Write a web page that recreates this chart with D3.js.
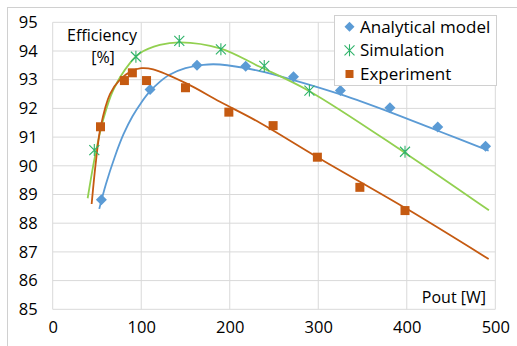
<!DOCTYPE html>
<html>
<head>
<meta charset="utf-8">
<script src="https://cdn.jsdelivr.net/npm/d3@7"></script>
<style>
  body { margin: 0; background: #fff; }
  svg { font-family: "Open Sans", sans-serif; }
</style>
</head>
<body>
<svg id="chart" width="517" height="346"></svg>
<script>
// Measured points (Pout [W], efficiency [%])
var analyticalX = [55, 110, 163, 218, 272, 325, 381, 435, 489];
var analyticalY = [88.82, 92.66, 93.5, 93.47, 93.1, 92.62, 92.02, 91.35, 90.68];

var simulationX = [47, 94, 143, 190, 239, 290, 398];
var simulationY = [90.55, 93.8, 94.35, 94.06, 93.48, 92.62, 90.49];

var experimentX = [54, 81, 90, 106, 150, 199, 249, 299, 347, 398];
var experimentY = [91.36, 92.97, 93.24, 92.97, 92.72, 91.87, 91.4, 90.3, 89.25, 88.44];

// Trend lines
var analyticalFitX = [52.6, 60, 70, 80, 90, 100, 110, 120, 132, 150, 170, 189, 234, 273, 327, 381, 435, 492.5];
var analyticalFitY = [88.5, 89.35, 90.3, 91.1, 91.72, 92.2, 92.6, 92.9, 93.17, 93.4, 93.52, 93.53, 93.3, 92.98, 92.47, 91.87, 91.22, 90.53];

var simulationFitX = [39.5, 47.7, 57, 68.4, 87, 98.5, 121, 144, 189, 234, 290, 398, 492.8];
var simulationFitY = [88.87, 90.32, 91.6, 92.64, 93.57, 93.92, 94.21, 94.3, 94.09, 93.45, 92.6, 90.45, 88.45];

var experimentFitX = [44, 49, 54.2, 64.7, 76, 88, 100, 113.5, 151, 189, 234, 299, 400, 492.5];
var experimentFitY = [88.67, 90.2, 91.36, 92.5, 93.0, 93.28, 93.4, 93.36, 92.87, 92.23, 91.5, 90.3, 88.5, 86.75];

var xTicks = [0, 100, 200, 300, 400, 500];
var yTicks = [85, 86, 87, 88, 89, 90, 91, 92, 93, 94, 95];

var seriesNames = ['Analytical model', 'Simulation', 'Experiment'];

var svg = d3.select('#chart');

var margin = {left: 52.7, right: 517 - 495.3, top: 22.3, bottom: 346 - 309.3};
var width = 517 - margin.left - margin.right,
    height = 346 - margin.top - margin.bottom;

// Outer chart frame
svg.append('rect')
    .attr('x', 7.5).attr('y', 7.5)
    .attr('width', 530).attr('height', 360)
    .attr('fill', 'none')
    .attr('stroke', '#d0d0d0');

var g = svg.append('g')
    .attr('transform', 'translate(' + margin.left + ',' + margin.top + ')');

var x = d3.scaleLinear().domain([0, 500]).range([0, width]);
var y = d3.scaleLinear().domain([85, 95]).range([height, 0]);

// Grid
g.append('g').selectAll('line.h')
    .data(yTicks)
    .enter().append('line')
        .attr('x1', 0).attr('x2', width)
        .attr('y1', function(d) { return y(d); })
        .attr('y2', function(d) { return y(d); })
        .attr('stroke', '#d9d9d9');

g.append('g').selectAll('line.v')
    .data(xTicks)
    .enter().append('line')
        .attr('y1', 0).attr('y2', height)
        .attr('x1', function(d) { return x(d); })
        .attr('x2', function(d) { return x(d); })
        .attr('stroke', '#d9d9d9');

// Axes (labels only)
var yAxis = g.append('g')
    .call(d3.axisLeft(y).tickValues(yTicks).tickSize(0).tickPadding(15));
var xAxis = g.append('g')
    .attr('transform', 'translate(0,' + height + ')')
    .call(d3.axisBottom(x).tickValues(xTicks).tickSize(0).tickPadding(12));
[xAxis, yAxis].forEach(function(a) {
    a.select('.domain').remove();
    a.selectAll('text')
        .attr('font-family', '"Open Sans", sans-serif')
        .attr('font-size', 16.5)
        .attr('fill', '#000');
});

// Trend lines
function zip(xs, ys) { return xs.map(function(d, i) { return [d, ys[i]]; }); }

var line = d3.line()
    .x(function(d) { return x(d[0]); })
    .y(function(d) { return y(d[1]); })
    .curve(d3.curveCatmullRom.alpha(0.5));

var fits = [
    {pts: zip(analyticalFitX, analyticalFitY), color: '#5b9bd5'},
    {pts: zip(simulationFitX, simulationFitY), color: '#92d050'},
    {pts: zip(experimentFitX, experimentFitY), color: '#c55a11'}
];

g.selectAll('.fit')
    .data(fits)
    .enter().append('path')
        .attr('class', 'fit')
        .attr('d', function(d) { return line(d.pts); })
        .attr('fill', 'none')
        .attr('stroke', function(d) { return d.color; })
        .attr('stroke-width', 1.8);

// Markers
var asterisk = 'M-5,-5L5,5M-5,5L5,-5M0,-6L0,6';
var diamondPath = 'M0,-5.5L5.5,0L0,5.5L-5.5,0Z';

function drawDiamonds(sel, pts) {
    sel.selectAll(null).data(pts).enter().append('path')
        .attr('transform', function(d) { return 'translate(' + x(d[0]) + ',' + y(d[1]) + ')'; })
        .attr('d', diamondPath)
        .attr('fill', '#5b9bd5');
}
function drawAsterisks(sel, pts) {
    sel.selectAll(null).data(pts).enter().append('path')
        .attr('transform', function(d) { return 'translate(' + x(d[0]) + ',' + y(d[1]) + ')'; })
        .attr('d', asterisk)
        .attr('fill', 'none')
        .attr('stroke', '#2fb36a')
        .attr('stroke-width', 1.1);
}
function drawSquares(sel, pts) {
    sel.selectAll(null).data(pts).enter().append('rect')
        .attr('x', function(d) { return x(d[0]) - 4.5; })
        .attr('y', function(d) { return y(d[1]) - 4.5; })
        .attr('width', 9).attr('height', 9)
        .attr('fill', '#c55a11');
}

drawDiamonds(g.append('g'), zip(analyticalX, analyticalY));
drawAsterisks(g.append('g'), zip(simulationX, simulationY));
drawSquares(g.append('g'), zip(experimentX, experimentY));

// Axis titles inside the plot
svg.append('text')
    .attr('x', 102).attr('y', 41)
    .attr('text-anchor', 'middle')
    .attr('font-size', 16)
    .text('Efficiency');
svg.append('text')
    .attr('x', 103).attr('y', 63)
    .attr('text-anchor', 'middle')
    .attr('font-size', 16)
    .text('[%]');
svg.append('text')
    .attr('x', 486).attr('y', 303)
    .attr('text-anchor', 'end')
    .attr('font-size', 16)
    .text('Pout [W]');

// Legend
var legend = svg.append('g');
legend.append('rect')
    .attr('x', 334.5).attr('y', 15.5)
    .attr('width', 162).attr('height', 70)
    .attr('fill', '#fff')
    .attr('stroke', '#d0d0d0');

var rowY = d3.scalePoint().domain(seriesNames).range([26.7, 74]);
var lx = 349.5;

legend.append('path')
    .attr('transform', 'translate(' + lx + ',' + rowY(seriesNames[0]) + ')')
    .attr('d', 'M0,-5L5,0L0,5L-5,0Z')
    .attr('fill', '#5b9bd5');
legend.append('path')
    .attr('transform', 'translate(' + lx + ',' + rowY(seriesNames[1]) + ')')
    .attr('d', asterisk)
    .attr('fill', 'none')
    .attr('stroke', '#2fb36a')
    .attr('stroke-width', 1.1);
legend.append('rect')
    .attr('x', lx - 4).attr('y', rowY(seriesNames[2]) - 4)
    .attr('width', 8).attr('height', 8)
    .attr('fill', '#c55a11');

legend.selectAll('text')
    .data(seriesNames)
    .enter().append('text')
        .attr('x', 360)
        .attr('y', function(d) { return rowY(d) + 6; })
        .attr('font-size', 17)
        .text(function(d) { return d; });
</script>
</body>
</html>
